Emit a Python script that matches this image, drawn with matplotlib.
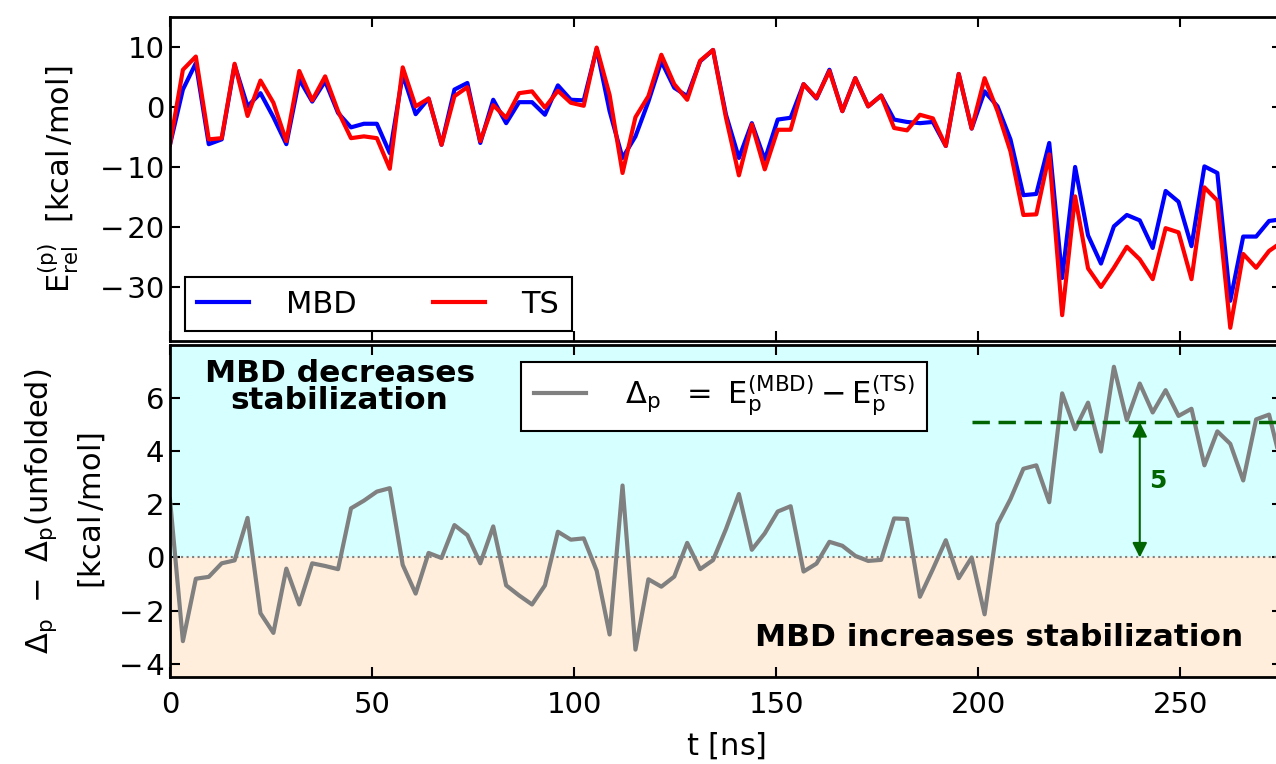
import numpy as np
import matplotlib
matplotlib.use('Agg')
from matplotlib import pyplot as plt
from matplotlib.ticker import FuncFormatter

# sampling of the trajectory
dt = 3.2

# relative energies per frame [kcal/mol]
e_mbd = [-6.3, 2.9, 7.3, -6.2, -5.4, 7.0, 0.1, 2.3, -1.7, -6.2,
         4.6, 0.9, 4.3, -1.0, -3.4, -2.8, -2.8, -7.7, 5.4, -1.2,
         1.4, -6.3, 2.9, 4.0, -6.0, 1.2, -2.7, 0.8, 0.8, -1.3,
         3.6, 1.2, 1.1, 9.7, -0.7, -8.5, -4.9, 0.9, 7.6, 3.2,
         1.8, 7.6, 9.5, -1.3, -8.5, -2.7, -8.8, -2.1, -1.8, 3.8,
         1.4, 6.2, -0.7, 4.8, 0.1, 1.9, -2.1, -2.5, -2.7, -2.5,
         -6.5, 5.5, -3.6, 2.6, 0.1, -5.4, -14.7, -14.5, -6.0, -28.5,
         -10.0, -21.4, -26.1, -19.9, -18.0, -18.9, -23.5, -14.0, -15.8, -23.2,
         -9.9, -11.0, -32.3, -21.6, -21.6, -19.0, -18.7]
e_ts = [-6.3, 6.2, 8.4, -5.4, -5.2, 7.2, -1.5, 4.4, 0.7, -5.7,
        6.0, 1.1, 5.1, -0.7, -5.2, -4.9, -5.2, -10.3, 6.6, 0.1,
        1.4, -6.3, 1.8, 3.3, -5.7, 0.3, -1.8, 2.3, 2.6, -0.1,
        2.7, 0.7, 0.2, 9.9, 2.0, -11.0, -1.7, 1.8, 8.7, 3.8,
        1.2, 7.7, 9.5, -1.8, -11.4, -2.9, -10.4, -3.8, -3.8, 3.8,
        1.5, 6.0, -0.7, 4.8, 0.1, 1.9, -3.5, -3.9, -1.3, -1.9,
        -6.5, 5.5, -3.6, 4.8, -0.7, -7.4, -18.0, -17.9, -7.9, -34.7,
        -14.9, -26.9, -30.0, -26.8, -23.3, -25.4, -28.7, -20.2, -20.9, -28.7,
        -13.4, -15.6, -36.8, -24.5, -26.8, -24.0, -22.5]

# Delta_p - Delta_p(unfolded) [kcal/mol]
delta = [2.20, -3.15, -0.80, -0.73, -0.22, -0.11, 1.49, -2.10, -2.84, -0.42,
         -1.77, -0.22, -0.32, -0.44, 1.85, 2.14, 2.48, 2.61, -0.28, -1.36,
         0.17, -0.02, 1.22, 0.84, -0.22, 1.17, -1.05, -1.43, -1.77, -1.05,
         0.97, 0.67, 0.72, -0.50, -2.90, 2.71, -3.47, -0.82, -1.10, -0.72,
         0.55, -0.44, -0.10, 1.07, 2.39, 0.29, 0.91, 1.73, 1.93, -0.53,
         -0.23, 0.59, 0.44, 0.06, -0.13, -0.09, 1.47, 1.45, -1.48, -0.44,
         0.65, -0.78, 0.00, -2.14, 1.26, 2.20, 3.34, 3.47, 2.08, 6.18,
         4.83, 5.83, 3.99, 7.18, 5.17, 6.55, 5.46, 6.30, 5.33, 5.60,
         3.47, 4.75, 4.28, 2.90, 5.20, 5.38, 3.41]

shift = 5.1
t = np.arange(len(delta)) * dt

plt.rcParams['font.size'] = 20
plt.rcParams['mathtext.fontset'] = 'dejavusans'


def fmt(v, pos):
    # wide minus like the old mathtext ticks
    if v < 0:
        return '\u2212\u200a%d' % abs(v)
    return '%d' % v


fig = plt.figure(figsize=(12.76, 7.64), dpi=100)
ax1 = fig.add_axes([0.1332, 0.5537, 0.8715, 0.4241])
ax2 = fig.add_axes([0.1332, 0.1139, 0.8715, 0.4345], sharex=ax1)

for ax in (ax1, ax2):
    for s in ax.spines.values():
        s.set_linewidth(2)
    ax.tick_params(direction='in', length=7, width=1.5, top=True, right=True, labelsize=21)
    ax.tick_params(axis='x', pad=10)
    ax.tick_params(axis='y', pad=4)
    ax.yaxis.set_major_formatter(FuncFormatter(fmt))

# top panel
ax1.plot(t, e_mbd, color='b', lw=3, label='MBD')
ax1.plot(t, e_ts, color='r', lw=3, label='TS')
ax1.set_ylim(-39, 15)
ax1.set_yticks([-30, -20, -10, 0, 10])
ax1.set_xlim(0, t[-1])
ax1.tick_params(labelbottom=False)
ax1.set_ylabel(r'$\mathrm{E_{rel}^{(p)}\ \ [kcal\,/mol]}$', fontsize=22)
ax1.yaxis.set_label_coords(-0.08, 0.5)
ax1.legend(loc='lower left', bbox_to_anchor=(0.0135, 0.031), borderaxespad=0, ncol=2,
           handlelength=1.7, handletextpad=1.2, columnspacing=2.5, fancybox=False,
           edgecolor='k', framealpha=1, fontsize=22).get_frame().set_linewidth(1.5)

# bottom panel
ax2.axhspan(0, 8, color='#d6ffff', zorder=0)
ax2.axhspan(-4.5, 0, color='#ffeedb', zorder=0)
ax2.axhline(0, color='gray', ls=':', lw=1.5)
ax2.plot(t, delta, color='gray', lw=3,
         label=r'$\Delta_\mathrm{p}\ \ =\ \mathrm{E_p^{(MBD)}} - \mathrm{E_p^{(TS)}}$')
ax2.plot([198.5, t[-1]], [shift, shift], color='darkgreen', lw=2.5, dashes=(5, 2.5))
ax2.annotate('', xy=(240, shift), xytext=(240, 0),
             arrowprops=dict(arrowstyle='<|-|>', color='darkgreen', lw=1.5, mutation_scale=22,
                             shrinkA=0, shrinkB=0))
ax2.text(242.3, 2.88, '5', color='darkgreen', fontsize=18, fontweight='bold', ha='left', va='center')
ax2.text(42, 6.42, 'MBD decreases\nstabilization', fontsize=22.5, fontweight='bold',
         ha='center', va='center', linespacing=0.95)
ax2.text(265.6, -3.01, 'MBD increases stabilization', fontsize=22.5, fontweight='bold',
         ha='right', va='center')
ax2.set_ylim(-4.5, 8)
ax2.set_yticks([-4, -2, 0, 2, 4, 6])
ax2.set_xticks([0, 50, 100, 150, 200, 250])
ax2.set_xlabel(r'$\mathrm{t\ [ns]}$', fontsize=22, labelpad=8)
ax2.set_ylabel(r'$\Delta_\mathrm{p}\ -\ \Delta_\mathrm{p}\mathrm{(unfolded)}$' + '\n' + r'$\mathrm{[kcal\,/mol]}$',
               fontsize=22, linespacing=1.7)
ax2.yaxis.set_label_coords(-0.057, 0.5)
ax2.legend(loc='upper left', bbox_to_anchor=(0.316, 0.949), borderaxespad=0,
           handlelength=1.7, handletextpad=1.3, fancybox=False,
           edgecolor='k', framealpha=1, fontsize=22).get_frame().set_linewidth(1.5)

fig.savefig('out.png', dpi=100)
